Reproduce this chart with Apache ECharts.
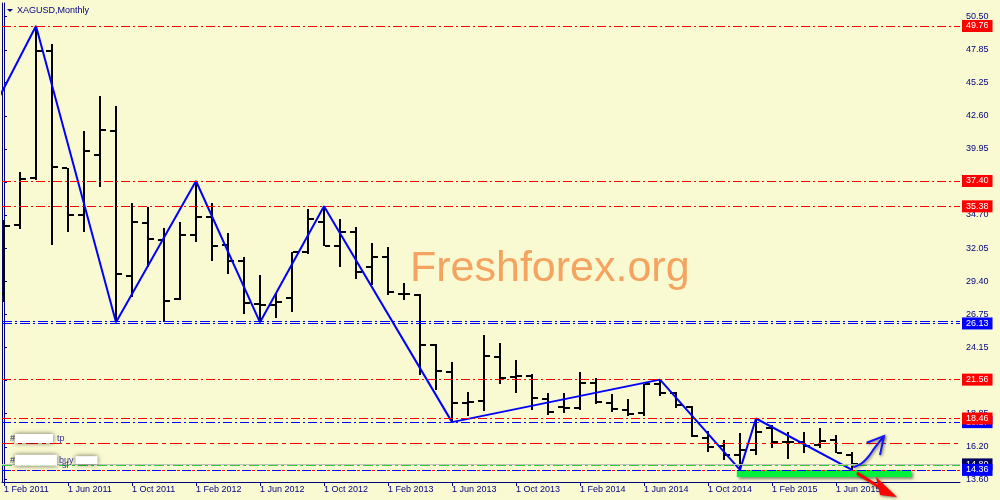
<!DOCTYPE html>
<html><head><meta charset="utf-8">
<script src="https://cdn.jsdelivr.net/npm/echarts@6/dist/echarts.min.js"></script>
<style>html,body{margin:0;padding:0;background:#FAFAD2}#c{width:1000px;height:500px}</style>
</head><body><div id="c"></div>
<script>
// ---- data ----
const months = ['Feb 2011','Mar 2011','Apr 2011','May 2011','Jun 2011','Jul 2011','Aug 2011','Sep 2011','Oct 2011','Nov 2011','Dec 2011',
 'Jan 2012','Feb 2012','Mar 2012','Apr 2012','May 2012','Jun 2012','Jul 2012','Aug 2012','Sep 2012','Oct 2012','Nov 2012','Dec 2012',
 'Jan 2013','Feb 2013','Mar 2013','Apr 2013','May 2013','Jun 2013','Jul 2013','Aug 2013','Sep 2013','Oct 2013','Nov 2013','Dec 2013',
 'Jan 2014','Feb 2014','Mar 2014','Apr 2014','May 2014','Jun 2014','Jul 2014','Aug 2014','Sep 2014','Oct 2014','Nov 2014','Dec 2014',
 'Jan 2015','Feb 2015','Mar 2015','Apr 2015','May 2015','Jun 2015','Jul 2015'];
const opens  = [28.40,33.89,37.64,47.79,38.41,34.71,39.47,41.41,29.82,34.07,32.70,27.99,33.09,34.55,32.32,31.04,27.56,27.50,28.04,31.71,34.15,32.22,33.36,30.56,31.36,28.40,28.31,24.33,22.20,19.67,19.88,23.39,21.79,21.87,20.00,19.40,19.32,21.27,19.67,19.14,18.87,21.21,20.47,19.40,16.93,16.27,15.55,15.95,17.68,16.61,16.61,16.37,16.77,15.55];
const highs  = [34.29,38.09,49.76,48.30,38.46,41.39,44.18,43.38,35.62,35.35,33.63,34.10,37.40,35.62,33.23,31.31,29.90,28.49,31.71,35.14,35.38,34.34,33.76,32.43,32.11,29.24,28.35,24.40,22.94,20.60,25.12,24.46,23.12,21.98,20.47,20.52,22.14,21.67,20.41,19.99,21.21,21.56,20.55,19.48,17.50,16.75,17.30,18.46,17.94,17.41,17.41,17.67,17.15,15.81];
const lows   = [27.75,33.55,37.48,32.30,33.31,33.36,36.95,26.13,28.17,30.56,26.16,27.91,32.56,31.04,29.96,26.77,26.13,26.45,26.98,31.58,32.22,30.56,29.56,29.11,28.31,27.91,21.93,20.73,18.17,18.66,19.06,21.19,20.47,19.14,18.74,18.92,19.14,19.62,18.95,18.66,18.68,20.28,19.27,16.96,15.81,15.15,14.36,15.55,16.08,15.23,15.73,16.08,15.69,14.36];
const closes = [33.84,37.56,47.79,38.54,34.71,39.82,41.49,29.96,34.15,32.80,27.85,33.09,34.55,32.24,31.04,27.69,27.50,27.75,31.71,34.37,32.22,33.36,30.17,31.36,28.57,28.40,24.33,22.27,19.72,19.80,23.44,21.71,21.85,20.07,19.00,19.32,21.32,19.80,19.22,18.82,21.21,20.47,19.54,17.07,16.21,15.55,15.95,17.41,16.61,16.61,16.27,16.69,15.73,14.80];
const xTickIdx = [0,4,8,12,16,20,24,28,32,36,40,44,48,52];
const yTickLabels = [13.60,16.20,18.85,21.50,24.15,26.75,29.40,32.05,34.70,37.30,39.95,42.60,45.25,47.85,50.50];
const zigzagIdx = [-1,2,7,12,16,20,28,41,46,47,53];
const zigzagVal = [42.35,49.76,26.13,37.40,26.13,35.38,18.17,21.56,14.36,18.46,14.36];
const redLevels = [49.76,37.40,35.38,21.56];
const blueLevelLow = 18.17, redLevelLow = 18.46;
const blueDoubleLevels = [26.195,26.036];
const blueDoubleLabel = 26.13;
const tpLevel = 16.50, buyLevel = 14.70, slLevel = 14.36, bidLevel = 14.80;
const greenZone = [[45.8,14.36],[56.7,13.80]];
const blueArrowPath = [[53.08,14.57],[53.61,14.89],[54.02,15.41],[54.44,16.16],[55.0,17.06]];
const blueArrowHead = [[53.92,16.53],[55.0,17.06],[54.75,15.55]];
const redArrowShaft = [[53.31,14.11],[54.69,13.00]];
const redArrowHead = [[54.5,13.80],[55.81,12.20],[54.75,12.36]];

// ---- chart ----
const FONT = 'Liberation Sans';
const NAVY = '#000080';
const chart = echarts.init(document.getElementById('c'));
const bars = months.map((m,i)=>[i, opens[i], highs[i], lows[i], closes[i]]);

function boxLabel(bg, txt){
  return {show:true, position:'end', distance:2, formatter:p=>(txt!==undefined?txt:Number(p.value)).toFixed(2),
    backgroundColor:bg, color:'#fff', padding:[1,4,1,4], fontSize:9, fontFamily:FONT, lineHeight:10};
}
const dashRed = [9,3,2,3];
const markData = [];
redLevels.forEach(v=>markData.push({yAxis:v, lineStyle:{color:'#FF0000', type:dashRed, width:1}, label:boxLabel('#FF0000')}));
markData.push({yAxis:blueDoubleLevels[0], lineStyle:{color:'#0000FF', type:[10,3,2,3], width:1, opacity:1}, label:{show:false}});
markData.push({yAxis:blueDoubleLevels[1], lineStyle:{color:'#0000FF', type:[10,3,2,3], width:1, opacity:1}, label:boxLabel('#0000FF', blueDoubleLabel)});
markData.push({yAxis:blueLevelLow, lineStyle:{color:'#0000FF', type:dashRed, width:1}, label:boxLabel('#0000FF')});
markData.push({yAxis:redLevelLow, lineStyle:{color:'#FF0000', type:dashRed, width:1}, label:boxLabel('#FF0000')});
markData.push({yAxis:tpLevel, lineStyle:{color:'#FF0000', type:[12,4,4,4], width:1},
  label:{show:true, position:'insideStartTop', distance:[8,0], formatter:'{h|#}{b| }{t|tp}',
    rich:{h:{color:'#333399',fontSize:9,fontFamily:FONT},
          b:{width:38,height:9,backgroundColor:'#fff',shadowBlur:5,shadowColor:'rgba(0,0,0,0.6)'},
          t:{color:'#333399',fontSize:9,fontFamily:FONT,padding:[0,0,0,4]}}}});
markData.push({yAxis:bidLevel, lineStyle:{color:'#C0C0C0', type:'solid', width:1}, label:boxLabel('#000060')});
markData.push({yAxis:slLevel, lineStyle:{color:'#0000FF', type:[9,6], width:1},
  label:{show:true, position:'insideStartTop', distance:[60,0], formatter:'sl', color:'#333399', fontSize:9, fontFamily:FONT}});
markData.push({yAxis:slLevel, lineStyle:{color:'#FF0000', type:[3,12], dashOffset:-10, width:1}, label:boxLabel('#0000FF')});
markData.push({yAxis:buyLevel, lineStyle:{color:'#32CD32', type:[10,3,3,3], width:1},
  label:{show:true, position:'insideStartTop', distance:[8,0], formatter:'{h|#}{b| }{t|buy}{c| }',
    rich:{h:{color:'#333399',fontSize:9,fontFamily:FONT},
          b:{width:42,height:11,backgroundColor:'#fff',shadowBlur:5,shadowColor:'rgba(0,0,0,0.6)'},
          t:{color:'#333399',fontSize:9,fontFamily:FONT,padding:[0,2,0,2]},
          c:{width:22,height:8,backgroundColor:'#fff',shadowBlur:5,shadowColor:'rgba(0,0,0,0.6)'}}}});

const option = {
  backgroundColor:'#FAFAD2',
  animation:false,
  title:{text:'XAGUSD,Monthly', left:17, top:6, padding:0, textStyle:{fontSize:9, fontWeight:'normal', color:NAVY, fontFamily:FONT}},
  grid:{left:2, right:40, top:3, bottom:18, outerBoundsMode:'none'},
  xAxis:{type:'value', min:-0.125, max:59.75, splitLine:{show:false},
    axisLine:{show:true, lineStyle:{color:NAVY}},
    axisTick:{show:true, customValues:xTickIdx, length:4, lineStyle:{color:NAVY}},
    axisLabel:{customValues:xTickIdx, formatter:v=>'1 '+months[Math.round(v)], align:'left', margin:3,
      color:NAVY, fontSize:9, fontFamily:FONT}},
  yAxis:[{type:'value', position:'right', min:13.396, max:51.594, splitLine:{show:false},
    axisLine:{show:true, lineStyle:{color:NAVY}},
    axisTick:{show:true, customValues:yTickLabels, length:3, lineStyle:{color:NAVY}},
    axisLabel:{customValues:yTickLabels, formatter:v=>v.toFixed(2), margin:6, color:NAVY, fontSize:9, fontFamily:FONT}},
   {type:'value', position:'left', min:13.396, max:51.594, splitLine:{show:false},
    axisLine:{show:true, lineStyle:{color:NAVY}}, axisTick:{show:false}, axisLabel:{show:false}}],
  series:[
    {type:'line', data:[], z:1, silent:true,
     markLine:{symbol:['none','none'], silent:true, animation:false, data:markData},
     markArea:{silent:true, itemStyle:{color:'#00F03C', shadowBlur:3, shadowColor:'rgba(0,0,0,0.45)', shadowOffsetX:2, shadowOffsetY:2},
       data:[[{xAxis:greenZone[0][0], yAxis:greenZone[0][1]},{xAxis:greenZone[1][0], yAxis:greenZone[1][1]}]]}},
    {type:'custom', z:2, clip:true, data:bars, encode:{x:0, y:[1,2,3,4]},
     renderItem:function(params, api){
       const i = api.value(0);
       const pO = api.coord([i, api.value(1)]);
       const pH = api.coord([i, api.value(2)]);
       const pL = api.coord([i, api.value(3)]);
       const pC = api.coord([i, api.value(4)]);
       const x = Math.round(pH[0]);
       const yo = Math.round(pO[1]), yc = Math.round(pC[1]);
       return {type:'group', children:[
         {type:'rect', shape:{x:x-1, y:Math.round(pH[1]), width:2, height:Math.round(pL[1])-Math.round(pH[1])}, style:{fill:'#000'}},
         {type:'rect', shape:{x:x-6, y:yo-1, width:5, height:2}, style:{fill:'#000'}},
         {type:'rect', shape:{x:x+1, y:yc-1, width:5, height:2}, style:{fill:'#000'}}
       ]};
     }},
    {type:'line', z:3, data:zigzagIdx.map((x,i)=>[x, zigzagVal[i]]), symbol:'none', clip:true,
     lineStyle:{color:'#0000FF', width:2}}
  ]
};
chart.setOption(option);

const px = p => chart.convertToPixel({gridIndex:0}, p);
const shadow = {shadowBlur:3, shadowColor:'rgba(0,0,0,0.55)', shadowOffsetX:1, shadowOffsetY:1};
chart.setOption({graphic:[
  {type:'polygon', shape:{points:[[7,9],[13,9],[10,12]]}, style:{fill:NAVY}},
  {type:'text', left:410, top:248, z:-1, style:{text:'Freshforex.org', fontSize:43, fill:'#F4A460', fontFamily:FONT}},
  {type:'polyline', z:10, shape:{points:blueArrowPath.map(px), smooth:0.4}, style:Object.assign({stroke:'#1515FF', lineWidth:2, fill:null}, shadow)},
  {type:'polyline', z:10, shape:{points:blueArrowHead.map(px)}, style:Object.assign({stroke:'#1515FF', lineWidth:2, fill:null}, shadow)},
  {type:'polyline', z:10, shape:{points:redArrowShaft.map(px)}, style:Object.assign({stroke:'#FF0000', lineWidth:3, fill:null}, shadow)},
  {type:'polygon', z:10, shape:{points:redArrowHead.map(px)}, style:Object.assign({fill:'#FF0000'}, shadow)}
]});
</script></body></html>
